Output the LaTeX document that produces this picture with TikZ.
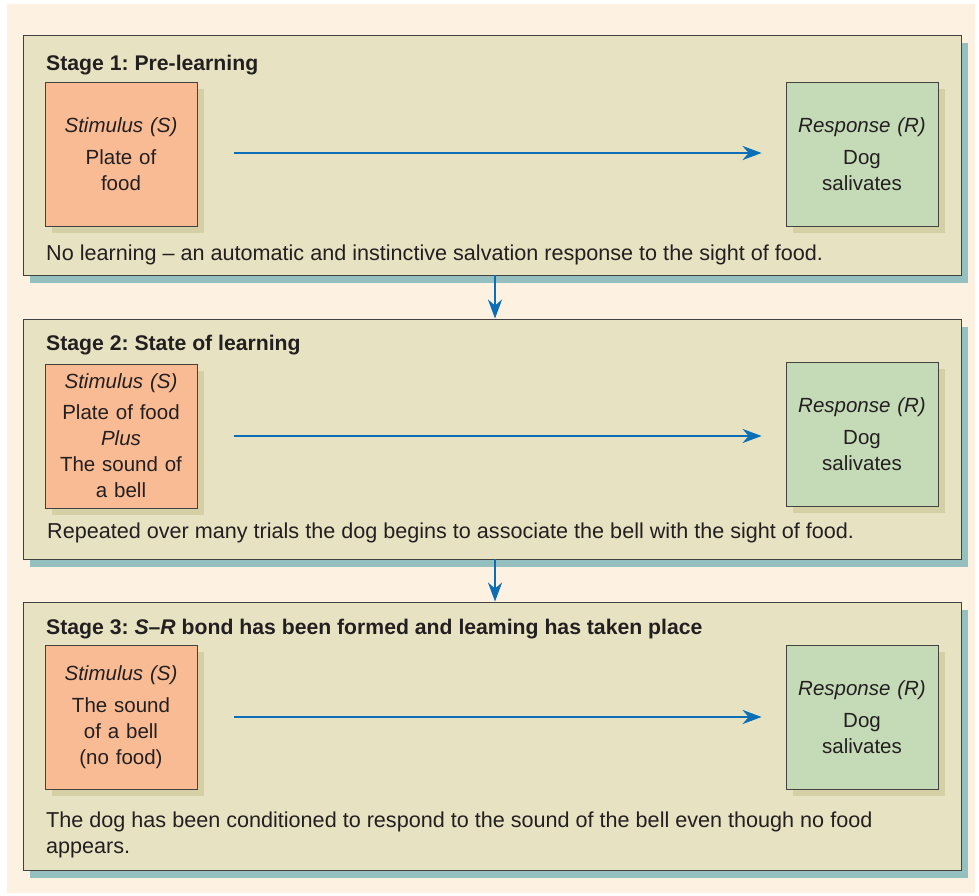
\documentclass[tikz,border=0pt]{standalone}
\usepackage{fontspec}
\setmainfont{Liberation Sans}
\usetikzlibrary{arrows.meta,shadows,positioning}
\definecolor{bgcream}{HTML}{FDF1E2}
\definecolor{panelfill}{HTML}{E7E2C2}
\definecolor{panelshade}{HTML}{94C0BF}
\definecolor{boxshade}{HTML}{D4CFA4}
\definecolor{stimfill}{HTML}{F9BB94}
\definecolor{respfill}{HTML}{C5DBB8}
\definecolor{flowblue}{HTML}{0B6FB8}
\definecolor{inkgray}{HTML}{231F20}
\frenchspacing
\newcommand{\stagefont}{\fontsize{20.5}{26}\selectfont}
\newcommand{\notefont}{\fontsize{21.6}{26}\selectfont}
\newcommand{\titlefont}{\fontsize{21.2}{26}\selectfont\bfseries}

\begin{document}
\begin{tikzpicture}[x=1pt,y=-1pt,
  panel/.style={draw=inkgray!85,line width=0.9pt,fill=panelfill,
    minimum width=938pt,inner sep=0pt,
    drop shadow={shadow xshift=7pt,shadow yshift=-8pt,fill=panelshade,opacity=1}},
  cuebox/.style={draw=inkgray!85,line width=0.8pt,text=inkgray,
    minimum width=152pt,minimum height=144pt,text width=146pt,
    inner sep=0pt,align=center,font=\stagefont,
    drop shadow={shadow xshift=7pt,shadow yshift=-7pt,fill=boxshade,opacity=1}},
  stimbox/.style={cuebox,fill=stimfill},
  respbox/.style={cuebox,fill=respfill},
  stagetitle/.style={anchor=west,inner sep=0pt,text=inkgray,font=\titlefont},
  stagenote/.style={anchor=west,inner sep=0pt,text=inkgray,align=left,font=\notefont},
  flow/.style={draw=flowblue,line width=2.5pt,
    -{Stealth[length=19pt,width=14pt,inset=6pt]}}
]
\fill[white] (0,0) rectangle (979,896);
\fill[bgcream] (7,4) rectangle (975,893);
\useasboundingbox (0,0) rectangle (979,896);

\node (p1) [panel,minimum height=240pt] at (492,155) {};
\node (t1) [stagetitle] at (46,65) {Stage 1: Pre-learning};
\node (s1) [stimbox] at (121,154) {\textit{Stimulus (S)}\\[6pt] Plate of\\ food};
\node (r1) [respbox] at (862,154) {\textit{Response (R)}\\[6pt] Dog\\ salivates};
\node (n1) [stagenote] at (46,255) {No learning – an automatic and instinctive salvation response to the sight of food.};
\draw[flow,shorten <=37pt,shorten >=24pt] ([yshift=1pt]s1.east) -- ([yshift=1pt]r1.west);

\node (p2) [panel,minimum height=240pt] at (492,439) {};
\node (t2) [stagetitle] at (46,345) {Stage 2: State of learning};
\node (s2) [stimbox] at (121,436) {\textit{Stimulus (S)}\\[5pt] Plate of food\\ \textit{Plus}\\ The sound of\\ a bell};
\node (r2) [respbox] at (862,434) {\textit{Response (R)}\\[6pt] Dog\\ salivates};
\node (n2) [stagenote] at (47,533) {Repeated over many trials the dog begins to associate the bell with the sight of food.};
\draw[flow,shorten <=37pt,shorten >=24pt] (s2.east) -- (s2.east -| r2.west);

\node (p3) [panel,minimum height=268pt] at (492,736) {};
\node (t3) [stagetitle] at (46,629) {Stage 3: \textit{S}–\textit{R} bond has been formed and leaming has taken place};
\node (s3) [stimbox] at (121,717) {\textit{Stimulus (S)}\\[6pt] The sound\\ of a bell\\ (no food)};
\node (r3) [respbox] at (862,717) {\textit{Response (R)}\\[6pt] Dog\\ salivates};
\node (n3) [stagenote] at (46,835) {The dog has been conditioned to respond to the sound of the bell even though no food\\ appears.};
\draw[flow,shorten <=37pt,shorten >=24pt] (s3.east) -- (r3.west);

\draw[flow] ([xshift=3pt]p1.south) -- ([xshift=3pt]p2.north);
\draw[flow] ([xshift=3pt]p2.south) -- ([xshift=3pt]p3.north);
\end{tikzpicture}
\end{document}
